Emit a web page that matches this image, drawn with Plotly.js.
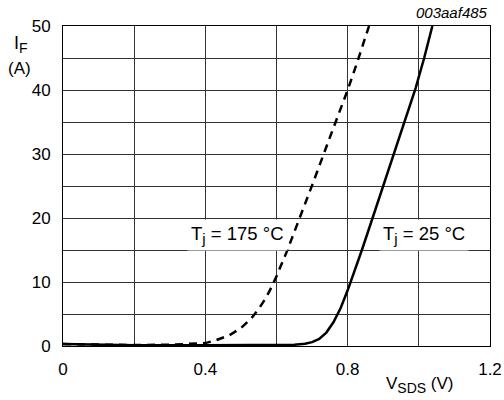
<!DOCTYPE html>
<html><head><meta charset="utf-8">
<script src="https://cdn.plot.ly/plotly-3.0.1.min.js"></script>
<style>html,body{margin:0;padding:0;background:#fff}</style>
</head><body>
<div id="chart" style="width:504px;height:400px"></div>
<script>
// Tj = 175 °C (dashed)
const v175 = [0, 0.1, 0.2, 0.3, 0.35, 0.4, 0.43, 0.468, 0.5, 0.529, 0.55, 0.57, 0.586, 0.6, 0.63, 0.665, 0.7, 0.75, 0.767, 0.8, 0.826, 0.86];
const i175 = [0.3, 0.2, 0.15, 0.2, 0.3, 0.45, 0.9, 1.7, 2.8, 4.3, 5.8, 7.5, 9.2, 10.9, 14.9, 19.9, 25.1, 32.6, 35.1, 40, 44.2, 50];
// Tj = 25 °C (solid)
const v25 = [0, 0.2, 0.4, 0.6, 0.65, 0.68, 0.7, 0.72, 0.74, 0.76, 0.78, 0.8, 0.82, 0.84, 0.87, 0.9, 0.943, 0.967, 0.991, 1.015, 1.038];
const i25 = [0.3, 0.1, 0.1, 0.15, 0.2, 0.35, 0.6, 1.1, 2.1, 3.7, 5.9, 8.7, 11.8, 15, 20, 25, 32.3, 36.3, 40.3, 45, 50];
const xTicks = [0, 0.4, 0.8, 1.2];
const xTickText = ["0", "0.4", "0.8", "1.2"];
const yTicks = [0, 10, 20, 30, 40, 50];
const subStyle = "font-size:14px";
const subStyleLbl = "font-size:15px";
const labels = ["T<sub><span style='" + subStyleLbl + "'>j</span></sub> = 175 °C", "T<sub><span style='" + subStyleLbl + "'>j</span></sub> = 25 °C"];
const labelX = [0.491, 1.014];
const labelY = [17.3, 17.3];

const fam = "Liberation Sans, Arial, sans-serif";
const font = {family: fam, size: 17, color: "#000"};
const lblFont = {family: fam, size: 18.5, color: "#000"};
const traces = [
  {x: v175, y: i175, mode: "lines", line: {color: "#000", width: 2.5, dash: "8px,6px"}, hoverinfo: "none"},
  {x: v25, y: i25, mode: "lines", line: {color: "#000", width: 2.5}, hoverinfo: "none"}
];
const grid = {showgrid: true, gridcolor: "#333", gridwidth: 1};
const layout = {
  width: 504, height: 400,
  margin: {l: 63, r: 14, t: 26, b: 54},
  paper_bgcolor: "#fff", plot_bgcolor: "#fff",
  showlegend: false,
  font: font,
  xaxis: Object.assign({range: [0, 1.2], tickvals: xTicks, ticktext: xTickText, zeroline: false,
    showline: true, linecolor: "#000", linewidth: 1, mirror: true, ticks: "", ticklabelstandoff: 8,
    minor: {tickvals: [0.2, 0.6, 1.0], showgrid: true, gridcolor: "#333", gridwidth: 1}}, grid),
  yaxis: Object.assign({range: [0, 50], tickvals: yTicks, zeroline: false,
    showline: true, linecolor: "#000", linewidth: 1, mirror: true, ticks: "", ticklabelstandoff: 8,
    minor: {tickvals: [5, 15, 25, 35, 45], showgrid: true, gridcolor: "#333", gridwidth: 1}}, grid),
  annotations: [
    {text: labels[0], x: labelX[0], y: labelY[0], xref: "x", yref: "y", showarrow: false, bgcolor: "#fff", borderpad: 3, font: lblFont},
    {text: labels[1], x: labelX[1], y: labelY[1], xref: "x", yref: "y", showarrow: false, bgcolor: "#fff", borderpad: 3, font: lblFont}
  ]
};
// text placed by pixel position (converted to paper coords)
const pw = 504 - 63 - 14, ph = 400 - 26 - 54;
function px(text, x, y, xanchor, size) {
  layout.annotations.push({text: text, xref: "paper", yref: "paper",
    x: (x - 63) / pw, y: 1 - (y - 26) / ph, xanchor: xanchor, yanchor: "middle", showarrow: false,
    font: {family: fam, size: size, color: "#000"}});
}
px("I<sub><span style='" + subStyle + "'>F</span></sub>", 12, 45, "left", 18);
px("(A)", 6, 68, "left", 17);
px("V<sub><span style='" + subStyle + "'>SDS</span></sub> (V)", 456, 385, "right", 17);
px("<i>003aaf485</i>", 490, 12, "right", 15);
Plotly.newPlot("chart", traces, layout, {staticPlot: true, displayModeBar: false});
</script>
</body></html>
